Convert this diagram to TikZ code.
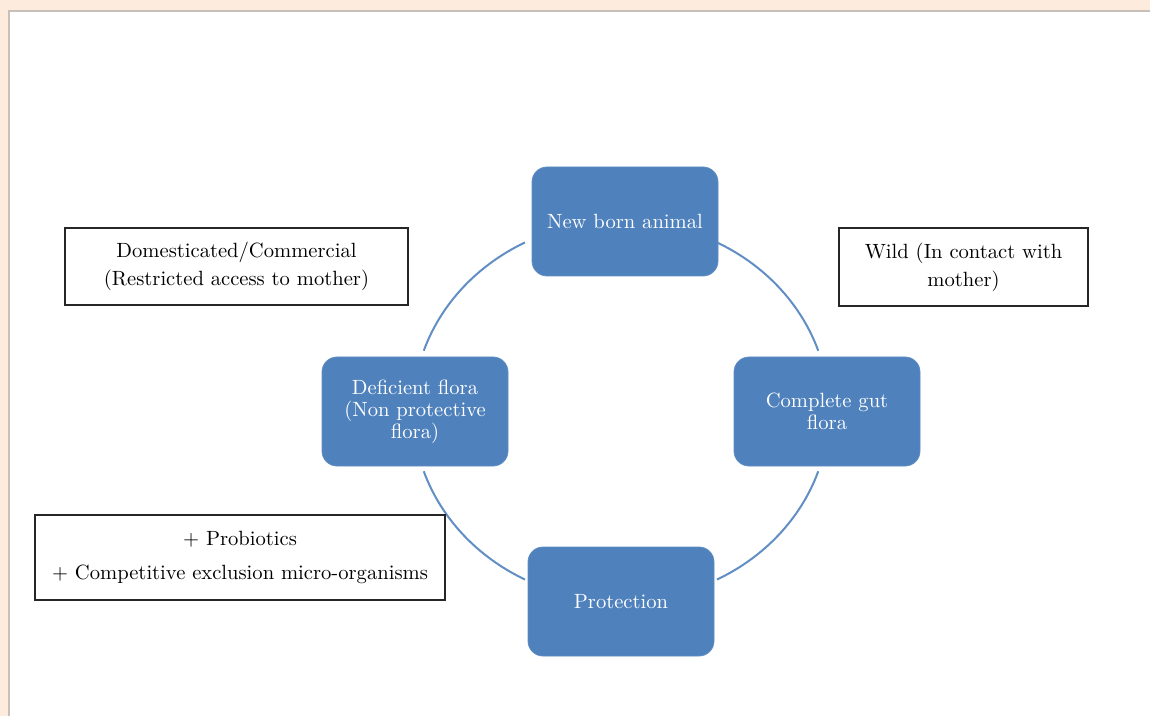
\documentclass[tikz,border=0pt]{standalone}
\usepackage{tikz}
\usetikzlibrary{positioning}
\definecolor{stageblue}{HTML}{4F81BD}
\definecolor{pagebeige}{HTML}{FDECDD}
\definecolor{framegray}{HTML}{C8C0B8}
\tikzset{%
  every stage/.style={
    rectangle,
    rounded corners=7.5pt,
    fill=stageblue,
    draw=stageblue!90!white,
    text=white,
    align=center,
    minimum width=93pt,
    minimum height=54.5pt,
    font=\fontsize{10.3}{11}\selectfont
  },
  every note/.style={
    rectangle,
    draw=black!85,
    line width=1pt,
    align=center,
    font=\fontsize{10.3}{14}\selectfont
  },
  cycle arc/.style={
    draw=stageblue!90!white,
    line width=1pt
  },
}
\begin{document}
\begin{tikzpicture}[x=0.5pt, y=-0.5pt]

    % page and frame
    \useasboundingbox (0,0) rectangle (1150,716);
    \clip (0,0) rectangle (1150,716);
    \fill [pagebeige] (0,0) rectangle (1150,716);
    \filldraw [fill=white, draw=framegray, line width=0.6pt] (9,11) rectangle (1170,736);

    \coordinate (cycle) at (621,411);

    % ring between the stages
    \foreach \s/\e in {-18.5/-62.5, -117.5/-161.5, 161.5/117.5, 62.5/18.5}
      \draw [cycle arc] (cycle) ++(\s:208 and 190)
        arc [start angle=\s, end angle=\e, x radius=208, y radius=190];

    \foreach \n/\x/\y/\t in {born/625/221.5/{New born animal},
                             gut/827/411.5/{Complete gut\\flora},
                             prot/621/601.5/{Protection},
                             defic/415/411.5/{Deficient flora\\(Non protective\\flora)}}
      \node [every stage] (stage-\n) at (\x,\y) {\t};

    \node [every note, minimum width=171.5pt, minimum height=38.5pt]
      (note-domestic) at (236.5,266.5) {Domesticated/Commercial\\(Restricted access to mother)};
    \node [every note, minimum width=124.5pt, minimum height=39pt]
      (note-wild) at (963.5,267) {Wild (In contact with\\mother)};
    \node [every note, minimum width=205pt, minimum height=42.5pt,
      font=\fontsize{10.3}{17}\selectfont]
      (note-probio) at (240,557.5) {+ Probiotics\\+ Competitive exclusion micro-organisms};

\end{tikzpicture}
\end{document}
